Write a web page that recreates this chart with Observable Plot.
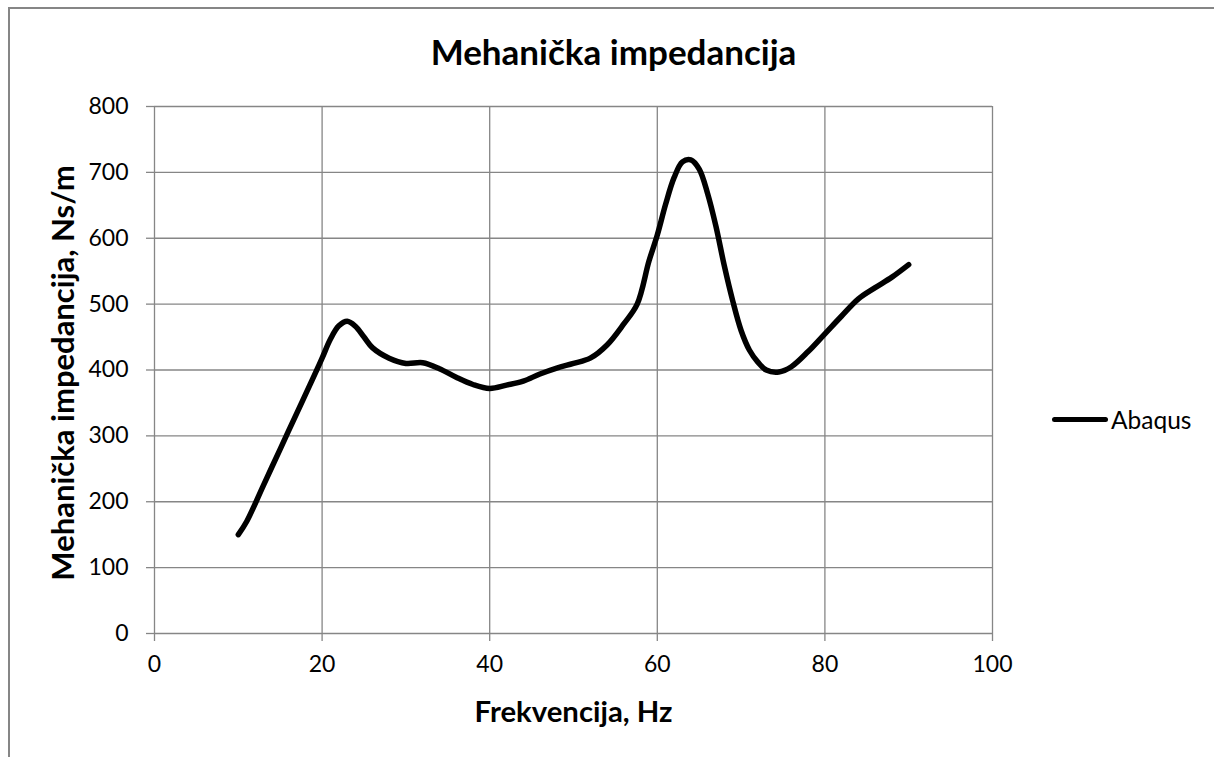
<!DOCTYPE html>
<html><head><meta charset="utf-8">
<script src="https://cdn.jsdelivr.net/npm/d3@7"></script>
<script src="https://cdn.jsdelivr.net/npm/@observablehq/plot@0.6"></script>
<style>
body{margin:0;background:#fff;}
#wrap{position:relative;width:1214px;height:757px;overflow:hidden;font-family:Lato, "Open Sans", sans-serif;}
#frameL{position:absolute;left:8px;top:7px;width:1.5px;height:760px;background:#868686;}
#frameT{position:absolute;left:8px;top:7px;width:1220px;height:1.5px;background:#868686;}
#legend{position:absolute;left:1052px;top:405px;display:flex;align-items:center;font-size:24.5px;color:#000;}
#legend .sw{width:56px;height:5px;background:#000;border-radius:3px;margin-right:3px;}
#chart{position:absolute;left:0;top:0;}
</style></head>
<body><div id="wrap"><div id="chart"></div><div id="frameL"></div><div id="frameT"></div>
<div id="legend"><div class="sw"></div><span>Abaqus</span></div></div>
<script>
const title = "Mehanička impedancija";
const xLabel = "Frekvencija, Hz";
const yLabel = "Mehanička impedancija, Ns/m";
const seriesName = "Abaqus";
const freq = [10,11,13,15,17,19,20,21,22,23,24,25,26,28,30,32,34,36,38,40,42,44,46,48,50,52,54,56,57.6,59,60,61,62,63,64,65,66,67,68,69,70,71,72,73,74.5,76,78,80,82,84,86,88,90];
const imp = [150,170,225,280,335,390,418,447,467,474,466,450,434,418,410,411,402,389,378,372,377,383,394,403,410,418,438,470,500,565,605,652,692,716,719,705,668,618,558,505,460,430,412,400,397,405,428,455,482,508,525,541,560];
const xTicks = [0,20,40,60,80,100];
const yTicks = [0,100,200,300,400,500,600,700,800];
const data = freq.map((f,i)=>({f, v: imp[i]}));
const font = "Lato, 'Open Sans', sans-serif";
const plot = Plot.plot({
  width:1214, height:757,
  marginLeft:154, marginRight:222, marginTop:106, marginBottom:124,
  style:{fontFamily:font, fontSize:"23px", color:"#000", background:"transparent"},
  x:{domain:[0,100], ticks:xTicks, label:null},
  y:{domain:[0,800], ticks:yTicks, label:null},
  marks:[
    Plot.gridX(xTicks,{stroke:"#868686", strokeOpacity:1, strokeWidth:1.3}),
    Plot.gridY(yTicks,{stroke:"#868686", strokeOpacity:1, strokeWidth:1.3}),
    Plot.axisX({ticks:xTicks, tickSize:8, tickPadding:14, stroke:"#868686", strokeWidth:1.3, fontSize:23, label:null}),
    Plot.axisY({ticks:yTicks, tickSize:8, tickPadding:18, stroke:"#868686", strokeWidth:1.3, fontSize:23, label:null}),
    Plot.line(data,{x:"f", y:"v", stroke:"#000", strokeWidth:5.5, curve:"catmull-rom", strokeLinecap:"round", strokeLinejoin:"round"}),
    Plot.text([title],{frameAnchor:"top", lineAnchor:"middle", dx:40, dy:-53, text:d=>d, fontSize:35, fontWeight:"bold", fontFamily:font}),
    Plot.text([xLabel],{frameAnchor:"bottom", lineAnchor:"middle", dy:79, text:d=>d, fontSize:29.3, fontWeight:"bold", fontFamily:font}),
    Plot.text([yLabel],{frameAnchor:"left", textAnchor:"middle", lineAnchor:"middle", dx:-90, dy:3, rotate:-90, text:d=>d, fontSize:31, fontWeight:"bold", fontFamily:font})
  ]
});
document.getElementById("chart").appendChild(plot);
</script></body></html>
